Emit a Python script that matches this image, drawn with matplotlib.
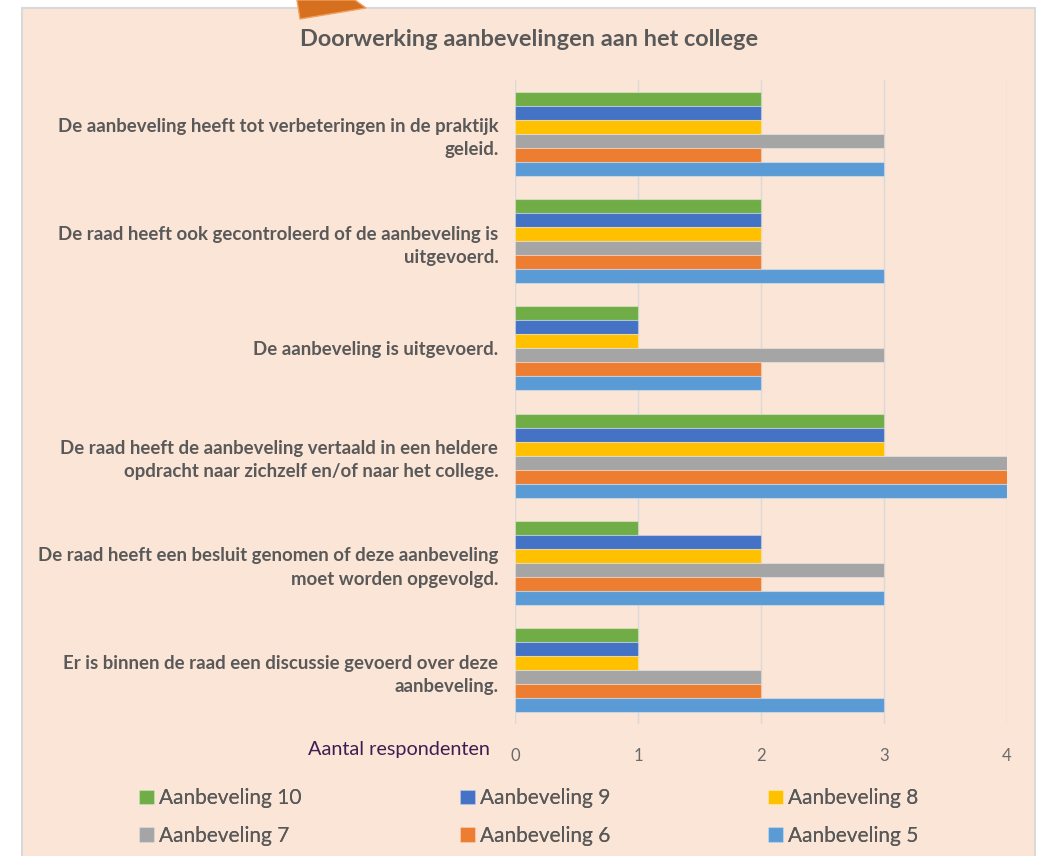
import numpy as np
import matplotlib.pyplot as plt
from matplotlib.patches import Rectangle, Polygon

plt.rcParams['font.family'] = ['Lato', 'DejaVu Sans']

categories = [
    "De aanbeveling heeft tot verbeteringen in de praktijk\ngeleid.",
    "De raad heeft ook gecontroleerd of de aanbeveling is\nuitgevoerd.",
    "De aanbeveling is uitgevoerd.",
    "De raad heeft de aanbeveling vertaald in een heldere\nopdracht naar zichzelf en/of naar het college.",
    "De raad heeft een besluit genomen of deze aanbeveling\nmoet worden opgevolgd.",
    "Er is binnen de raad een discussie gevoerd over deze\naanbeveling.",
]
series_names = ["Aanbeveling 10", "Aanbeveling 9", "Aanbeveling 8",
                "Aanbeveling 7", "Aanbeveling 6", "Aanbeveling 5"]
aanb10 = [2, 2, 1, 3, 1, 1]
aanb9 = [2, 2, 1, 3, 2, 1]
aanb8 = [2, 2, 1, 3, 2, 1]
aanb7 = [3, 2, 3, 4, 3, 2]
aanb6 = [2, 2, 2, 4, 2, 2]
aanb5 = [3, 3, 2, 4, 3, 3]
series = [aanb10, aanb9, aanb8, aanb7, aanb6, aanb5]
colors = ["#70AD47", "#4472C4", "#FFC000", "#A5A5A5", "#ED7D31", "#5B9BD5"]
xticks = [0, 1, 2, 3, 4]

W, H = 1039, 856
fig = plt.figure(figsize=(W / 100, H / 100), dpi=100)
fig.patch.set_facecolor("white")

# peach panel with light border
fig.patches.append(Rectangle((22 / W, -0.05), (1035 - 22) / W, 1.05 - 8 / H,
                             transform=fig.transFigure, facecolor="#FBE5D6",
                             edgecolor="#D9D9D9", linewidth=1.5, zorder=0))
# orange callout tip at the top
pts = [(297, 0), (355, 0), (366, 8), (300, 19)]
fig.patches.append(Polygon([(x / W, 1 - y / H) for x, y in pts], closed=True,
                           transform=fig.transFigure, facecolor="#D6701E",
                           edgecolor="#F0A060", linewidth=1, zorder=1))

ax = fig.add_axes([515 / W, (H - 724) / H, 492 / W, 644 / H])
ax.set_facecolor("none")
ax.set_zorder(3)

y = np.arange(len(categories))
h = 0.13
for i, (name, vals, c) in enumerate(zip(series_names, series, colors)):
    off = (i - 2.5) * h
    ax.barh(y + off, vals, height=h, color=c, label=name, zorder=3,
            edgecolor=(1, 1, 1, 0.35), linewidth=0.8)

ax.set_ylim(len(categories) - 0.5, -0.5)
ax.set_xlim(0, 4)
ax.set_xticks(xticks)
ax.set_yticks(y)
ax.set_yticklabels(categories, fontsize=13.4, fontweight="bold", color="#595959",
                   linespacing=1.45)
ax.tick_params(axis="y", length=0, pad=12)
ax.tick_params(axis="x", length=0, pad=17, labelsize=12, labelcolor="#6a6a6a")
ax.grid(axis="x", color="#D9D9D9", linewidth=1, zorder=0)
for s in ax.spines.values():
    s.set_visible(False)

fig.text(529 / W, 1 - 40 / H, "Doorwerking aanbevelingen aan het college",
         ha="center", va="center", fontsize=16.9, fontweight="bold", color="#595959")
fig.text(490 / W, 1 - 750 / H, "Aantal respondenten", ha="right", va="center",
         fontsize=14.3, color="#3B1F52")

handles, labels = ax.get_legend_handles_labels()
order = [0, 3, 1, 4, 2, 5]
leg = fig.legend([handles[i] for i in order], [labels[i] for i in order],
                 loc="center", ncol=3,
                 bbox_to_anchor=(529 / W, 1 - 817 / H), frameon=False,
                 fontsize=15, labelcolor="#595959", handlelength=0.7,
                 handleheight=0.7, handletextpad=0.25, columnspacing=7.6,
                 labelspacing=0.85)
fig.add_artist(leg)
leg.set_zorder(4)

fig.savefig("out.png", dpi=100, facecolor=fig.get_facecolor())
